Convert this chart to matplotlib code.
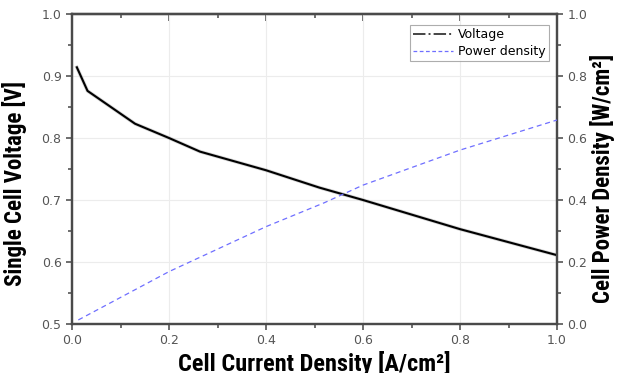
import matplotlib
matplotlib.use("Agg")
import matplotlib.pyplot as plt
from matplotlib.lines import Line2D
from matplotlib.ticker import MultipleLocator
from matplotlib import font_manager

# data
current = [0.01, 0.032, 0.13, 0.2, 0.264, 0.4, 0.51, 0.6, 0.8, 1.0]
voltage = [0.914, 0.876, 0.823, 0.800, 0.778, 0.748, 0.720, 0.700, 0.653, 0.611]
p_current = [0.013, 0.2, 0.4, 0.52, 0.6, 0.8, 1.0]
power = [0.013, 0.169, 0.314, 0.391, 0.448, 0.561, 0.658]

xticks = [0.0, 0.2, 0.4, 0.6, 0.8, 1.0]

names = {f.name for f in font_manager.fontManager.ttflist}
narrow = [n for n in ["Liberation Sans Narrow", "DejaVu Sans Condensed", "Roboto Condensed"] if n in names]
label_font = dict(family=narrow + ["DejaVu Sans"], weight="bold", stretch="condensed")
tick_col = "#555555"

fig = plt.figure(figsize=(6.26, 3.73), dpi=100)
ax = fig.add_axes([72 / 626, 1 - 324 / 373, (557 - 72) / 626, (324 - 14) / 373])
ax2 = ax.twinx()

ax.plot(current, voltage, color="#aaaaaa", lw=2.6, zorder=2, alpha=0.5)
ax.plot(current, voltage, color="black", lw=1.5, zorder=3)
ax2.plot(p_current, power, color="#6f6fff", lw=0.9, ls=(0, (4, 3)), zorder=3)

ax.set_xlim(0, 1.0)
ax.set_ylim(0.5, 1.0)
ax2.set_ylim(0, 1.0)
ax.set_xticks(xticks)
ax.xaxis.set_minor_locator(MultipleLocator(0.1))
ax.yaxis.set_major_locator(MultipleLocator(0.1))
ax.yaxis.set_minor_locator(MultipleLocator(0.05))
ax2.yaxis.set_major_locator(MultipleLocator(0.2))
ax2.yaxis.set_minor_locator(MultipleLocator(0.1))
ax.grid(True, color="#ececec", lw=0.8)
ax.set_axisbelow(True)

for a in (ax, ax2):
    for s in a.spines.values():
        s.set_color("#4a4a4a")
        s.set_linewidth(1.6)
for a in (ax, ax2):
    a.tick_params(which="both", colors=tick_col, labelsize=9, width=1.2, direction="out")
    a.tick_params(which="major", length=4)
    a.tick_params(which="minor", length=3)
ax.set_xticklabels(["%.1f" % t for t in xticks])

# top axis: ticks pointing inward, no labels
top = ax.secondary_xaxis("top")
top.set_xticks(xticks)
top.xaxis.set_minor_locator(MultipleLocator(0.1))
top.tick_params(which="both", direction="in", colors=tick_col, width=1.2, labeltop=False)
top.tick_params(which="major", length=5)
top.tick_params(which="minor", length=3)
top.spines["top"].set_color("#4a4a4a")
top.spines["top"].set_linewidth(1.6)

ax.set_xlabel("Cell Current Density [A/cm²]", size=17.5, **label_font)
ax.xaxis.set_label_coords(0.5, (324 - 351) / 310)
ax.set_ylabel("Single Cell Voltage [V]", size=16.5, **label_font)
ax.yaxis.set_label_coords((27 - 72) / 485, (324 - 183) / 310)
ax2.set_ylabel("Cell Power Density [W/cm²]", size=16.5, **label_font)
ax2.yaxis.set_label_coords((590 - 72) / 485, (324 - 178) / 310)

handles = [
    Line2D([], [], color="#444444", lw=1.4, ls="-."),
    Line2D([], [], color="#6f6fff", lw=0.9, ls=(0, (3, 2))),
]
leg = ax2.legend(handles, ["Voltage", "Power density"], loc="upper right",
                 bbox_to_anchor=(0.9835, 0.9645), fontsize=9, frameon=True,
                 fancybox=False, handlelength=3.2, borderpad=0.25,
                 labelspacing=0.3, handletextpad=0.4, borderaxespad=0)
leg.get_frame().set_edgecolor("#999999")
leg.get_frame().set_linewidth(0.8)

fig.savefig("out.png", dpi=100)
